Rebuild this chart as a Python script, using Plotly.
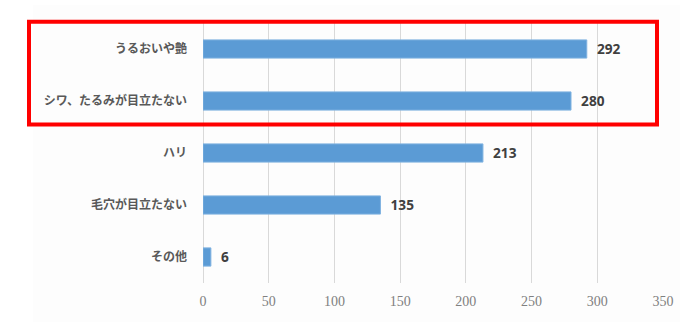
import plotly.graph_objects as go

categories = ["うるおいや艶", "シワ、たるみが目立たない", "ハリ", "毛穴が目立たない", "その他"]
values = [292, 280, 213, 135, 6]
x_ticks = [0, 50, 100, 150, 200, 250, 300, 350]

W, H = 700, 330
L, R, T, B = 203, 37, 23, 47
pw, ph = W - L - R, H - T - B

def px_x(p):
    return (p - L) / pw

def px_y(p):
    return (H - B - p) / ph

fig = go.Figure()
fig.add_trace(go.Bar(
    x=values,
    y=categories,
    orientation="h",
    marker=dict(color="#5b9bd5", line=dict(color="#7fb2e0", width=1)),
    width=0.35,
    text=["  " + str(v) for v in values],
    textposition="outside",
    textfont=dict(family="Noto Sans", size=15, color="#404040", weight="bold"),
    cliponaxis=False,
    hoverinfo="skip",
))

fig.update_layout(
    width=W, height=H,
    margin=dict(l=L, r=R, t=T, b=B),
    paper_bgcolor="white",
    plot_bgcolor="#fdfdfd",
    showlegend=False,
    xaxis=dict(
        range=[0, 350],
        tickvals=x_ticks,
        ticktext=[str(t) for t in x_ticks],
        showgrid=True,
        gridcolor="#d9d9d9",
        gridwidth=1,
        zeroline=True,
        zerolinecolor="#d9d9d9",
        zerolinewidth=1,
        showline=False,
        ticks="",
        ticklabelstandoff=8,
        tickfont=dict(family="Liberation Serif", size=14, color="#808080"),
        fixedrange=True,
    ),
    yaxis=dict(
        autorange="reversed",
        showgrid=False,
        showline=False,
        zeroline=False,
        ticks="",
        ticklabelstandoff=15,
        tickfont=dict(family="Noto Sans CJK JP", size=12, color="#595959", weight="bold"),
        fixedrange=True,
    ),
    shapes=[
        dict(
            type="rect", xref="paper", yref="paper", layer="below",
            x0=px_x(33), x1=px_x(680), y0=px_y(5), y1=px_y(322),
            fillcolor="#fdfdfd", line=dict(width=0),
        ),
        dict(
            type="rect", xref="paper", yref="paper",
            x0=px_x(29), x1=px_x(657), y0=px_y(124.5), y1=px_y(21.7),
            line=dict(color="#ff0000", width=4),
        ),
    ],
)

fig.write_html("out.html")
